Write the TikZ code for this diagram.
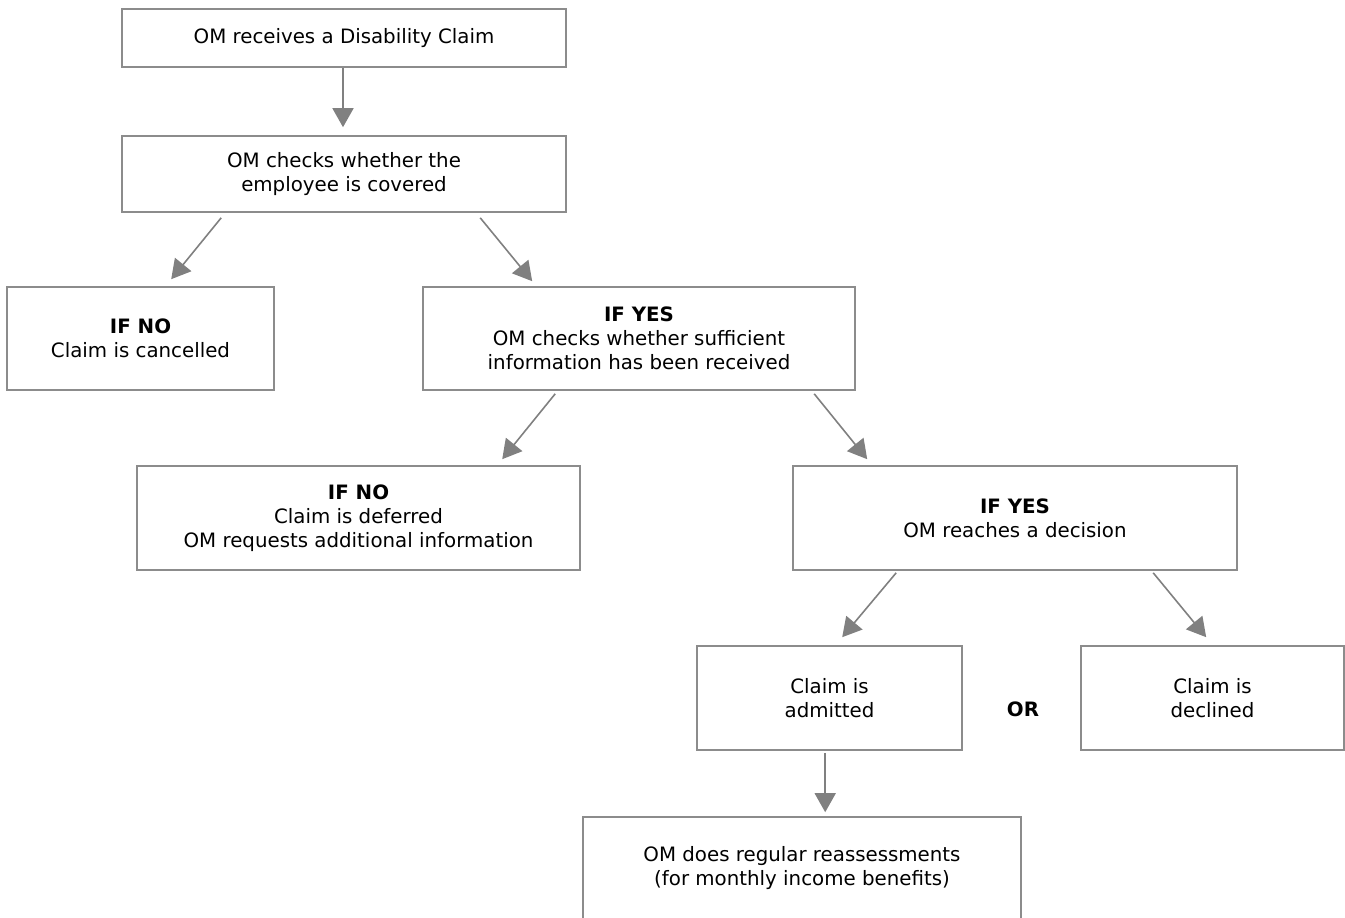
\documentclass[tikz,border=0pt]{standalone}
\usepackage{fontspec}
\setmainfont{DejaVu Sans}
\usetikzlibrary{arrows.meta,calc}
\definecolor{boxgray}{HTML}{8C8C8C}
\definecolor{arrgray}{HTML}{808080}
\begin{document}
\begin{tikzpicture}[x=1pt,y=-1pt,
  stepbox/.style={draw=boxgray,line width=1.6pt,inner sep=0pt,align=center,
    font=\fontsize{19.8}{24}\selectfont,text=black},
  arr/.style={draw=arrgray,line width=1.6pt,-{Triangle[length=19pt,width=21pt]}}]
\useasboundingbox (0,0) rectangle (1345,918);
\node[stepbox,minimum width=444pt,minimum height=58pt] (b1) at (344,38) {OM receives a Disability Claim};
\node[stepbox,minimum width=444pt,minimum height=76pt] (b2) at (344,174) {OM checks whether the\\employee is covered};
\node[stepbox,minimum width=267pt,minimum height=103pt] (b3) at (140.5,338.5) {\textbf{IF NO}\\Claim is cancelled};
\node[stepbox,minimum width=432pt,minimum height=103pt] (b4) at (639,338.5) {\textbf{IF YES}\\OM checks whether sufficient\\information has been received};
\node[stepbox,minimum width=443pt,minimum height=104pt] (b5) at (358.5,518) {\textbf{IF NO}\\Claim is deferred\\OM requests additional information};
\node[stepbox,minimum width=444pt,minimum height=104pt] (b6) at (1015,518) {\textbf{IF YES}\\OM reaches a decision};
\node[stepbox,minimum width=265pt,minimum height=104pt] (b7) at (829.5,698) {Claim is\\admitted};
\node[stepbox,minimum width=263pt,minimum height=104pt] (b8) at (1212.5,698) {Claim is\\declined};
\node[font=\fontsize{19.8}{24}\selectfont\bfseries] (or) at (1023,709) {OR};
\node[stepbox,draw=none,minimum width=436pt,minimum height=100pt] (b9) at (802,868) {OM does regular reassessments\\(for monthly income benefits)};
\draw[draw=boxgray,line width=1.6pt] (b9.south west) -- (b9.north west) -- (b9.north east) -- (b9.south east);
\draw[arr] ($(b1.south)+(-1,0)$) -- ($(b2.north)+(-1,-8)$);
\draw[arr] ($(b2.south west)+(100,5)$) -- ($(b3.north west)+(165,-7)$);
\draw[arr] ($(b2.south west)+(359,5)$) -- ($(b4.north west)+(110,-5)$);
\draw[arr] ($(b4.south west)+(133,3)$) -- ($(b5.north west)+(366,-6)$);
\draw[arr] ($(b4.south west)+(392,3)$) -- ($(b6.north west)+(75,-6)$);
\draw[arr] ($(b6.south west)+(104,2)$) -- ($(b7.north west)+(146,-8)$);
\draw[arr] ($(b6.south west)+(361,2)$) -- ($(b8.north west)+(126,-8)$);
\draw[arr] ($(b7.south west)+(129,2)$) -- ($(b9.north west)+(242,-5)$);
\end{tikzpicture}
\end{document}
